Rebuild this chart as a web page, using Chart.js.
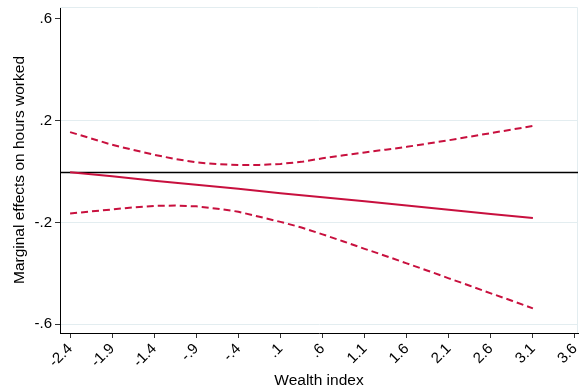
<!DOCTYPE html>
<html>
<head>
<meta charset="utf-8">
<script src="https://cdn.jsdelivr.net/npm/chart.js@4/dist/chart.umd.min.js"></script>
<style>
  html, body { margin: 0; padding: 0; background: #fff; }
  canvas { display: block; }
</style>
</head>
<body>
<canvas id="c" width="580" height="392"></canvas>
<script>
// Wealth index grid for the confidence band
const bandX = [-2.4, -2.15, -1.9, -1.65, -1.4, -1.15, -0.9, -0.65, -0.4, -0.15, 0.1, 0.35,
               0.6, 0.85, 1.1, 1.35, 1.6, 1.85, 2.1, 2.35, 2.6, 2.85, 3.1];
// Upper and lower 95% bounds
const upperCI = [0.155, 0.130, 0.105, 0.085, 0.066, 0.049, 0.036, 0.029, 0.026, 0.026, 0.030, 0.038,
                 0.052, 0.064, 0.075, 0.086, 0.097, 0.110, 0.123, 0.137, 0.151, 0.165, 0.179];
const lowerCI = [-0.165, -0.157, -0.149, -0.141, -0.135, -0.134, -0.137, -0.146, -0.158, -0.178, -0.198, -0.220,
                 -0.247, -0.275, -0.304, -0.332, -0.361, -0.390, -0.420, -0.449, -0.479, -0.508, -0.538];
// Point estimates of the marginal effect
const effectX = [-2.4, -1.9, -1.4, -0.9, -0.4, 0.1, 0.6, 1.1, 1.6, 2.1, 2.6, 3.1];
const effect = [-0.003, -0.019, -0.036, -0.052, -0.068, -0.085, -0.101, -0.117, -0.134, -0.150, -0.167, -0.183];

// Axis ticks and their labels
const xTicks = [-2.4, -1.9, -1.4, -0.9, -0.4, 0.1, 0.6, 1.1, 1.6, 2.1, 2.6, 3.1, 3.6];
const xTickLabels = ["-2.4", "-1.9", "-1.4", "-.9", "-.4", ".1", ".6", "1.1", "1.6", "2.1", "2.6", "3.1", "3.6"];
const yTicks = [-0.6, -0.2, 0.2, 0.6];
const yTickLabels = ["-.6", "-.2", ".2", ".6"];

const RED = '#c8103e';
const GRID = '#e3edf0';
const FONT = "'Liberation Sans', Arial, sans-serif";

const pts = (xs, ys) => xs.map((x, i) => ({ x: x, y: ys[i] }));

// Reference line at zero and the light plot-region frame
const extras = {
  id: 'extras',
  beforeDatasetsDraw(chart) {
    const { ctx, chartArea: a, scales } = chart;
    ctx.save();
    ctx.strokeStyle = GRID;
    ctx.lineWidth = 1;
    ctx.beginPath();
    ctx.moveTo(a.left, a.top + 0.5);
    ctx.lineTo(a.right - 0.5, a.top + 0.5);
    ctx.lineTo(a.right - 0.5, a.bottom);
    ctx.stroke();
    const y0 = Math.round(scales.y.getPixelForValue(0)) + 0.5;
    ctx.strokeStyle = '#000';
    ctx.lineWidth = 1.5;
    ctx.beginPath();
    ctx.moveTo(a.left, y0);
    ctx.lineTo(a.right, y0);
    ctx.stroke();
    ctx.restore();
  }
};

new Chart(document.getElementById('c'), {
  type: 'line',
  data: {
    datasets: [
      { data: pts(bandX, upperCI), borderColor: RED, borderWidth: 2, borderDash: [7, 4], pointRadius: 0, tension: 0, fill: false },
      { data: pts(effectX, effect), borderColor: RED, borderWidth: 2, pointRadius: 0, tension: 0, fill: false },
      { data: pts(bandX, lowerCI), borderColor: RED, borderWidth: 2, borderDash: [7, 4], pointRadius: 0, tension: 0, fill: false }
    ]
  },
  options: {
    responsive: false,
    animation: false,
    devicePixelRatio: 1,
    layout: { padding: { top: 7, right: 2, left: 0, bottom: 0 } },
    plugins: { legend: { display: false }, tooltip: { enabled: false } },
    scales: {
      x: {
        type: 'linear',
        min: -2.52, max: 3.636,
        afterBuildTicks: s => { s.ticks = xTicks.map(v => ({ value: v })); },
        afterFit: s => { s.height = 59; s.paddingLeft = 0; s.paddingRight = 0; },
        ticks: {
          callback: (v, i) => xTickLabels[i],
          autoSkip: false,
          minRotation: 45, maxRotation: 45,
          color: '#000', padding: 2,
          font: { family: FONT, size: 15 }
        },
        grid: { drawOnChartArea: false, tickColor: '#333', tickLength: 5 },
        border: { color: '#000', width: 1 },
        title: { display: true, text: 'Wealth index', color: '#000', font: { family: FONT, size: 15.5 }, padding: { top: 0, bottom: 2 } }
      },
      y: {
        type: 'linear',
        min: -0.635, max: 0.647,
        afterBuildTicks: s => { s.ticks = yTicks.map(v => ({ value: v })); },
        afterFit: s => { s.width = 60; s.paddingTop = 0; s.paddingBottom = 0; },
        ticks: {
          callback: (v, i) => yTickLabels[i],
          autoSkip: false,
          color: '#000', padding: 3,
          font: { family: FONT, size: 15 }
        },
        grid: {
          color: c => (c.tick && c.tick.value > 0.5) ? 'rgba(0,0,0,0)' : GRID,
          tickColor: '#333', tickLength: 5
        },
        border: { color: '#000', width: 1 },
        title: { display: true, text: 'Marginal effects on hours worked', color: '#000', font: { family: FONT, size: 15.5 }, padding: { top: 10, bottom: 0 } }
      }
    }
  },
  plugins: [extras]
});
</script>
</body>
</html>
